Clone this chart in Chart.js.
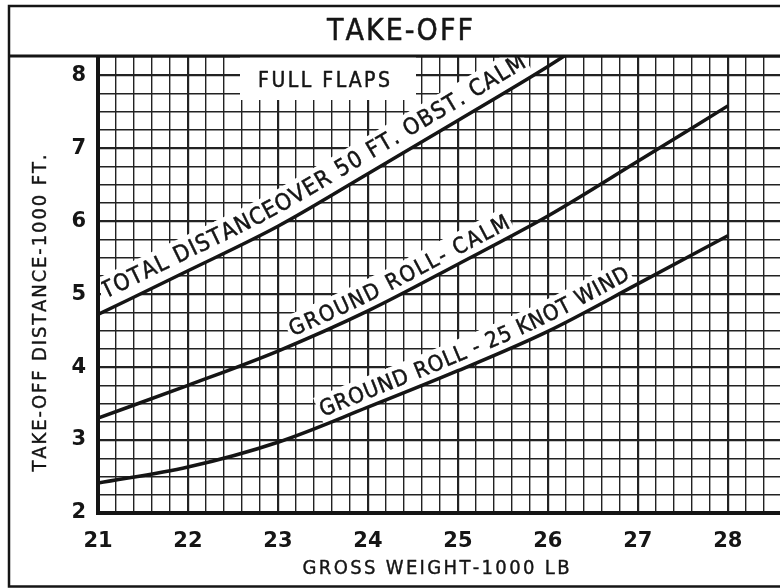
<!DOCTYPE html>
<html>
<head>
<meta charset="utf-8">
<title>Take-off</title>
<script src="https://cdn.jsdelivr.net/npm/chart.js@4.4.1/dist/chart.umd.min.js"></script>
<style>
  html, body { margin: 0; padding: 0; background: #fff; }
  canvas { display: block; }
</style>
</head>
<body>
<canvas id="takeoff" width="780" height="588"></canvas>
<script>
// gross weight, 1000 lb
const weights = [21, 22, 23, 24, 25, 26, 27, 28];
const totalWeights = [21, 22, 23, 24, 25, 26, 26.5];
// take-off distance, 1000 ft
const totalDistance = [4.72, 5.32, 5.93, 6.65, 7.38, 8.12, 8.52];
const groundRollCalm = [3.30, 3.75, 4.22, 4.77, 5.41, 6.07, 6.82, 7.58];
const groundRollWind = [2.41, 2.63, 2.97, 3.45, 3.95, 4.49, 5.14, 5.80];
const xTickLabels = [21, 22, 23, 24, 25, 26, 27, 28];
const yTickLabels = [2, 3, 4, 5, 6, 7, 8];

const INK = "#151515";
const LETTERING = "'DejaVu Sans Condensed', 'DejaVu Sans'";

const curveLabels = [
  { dataset: 0, text: "TOTAL DISTANCEOVER 50 FT. OBST. CALM", from: 21.1, to: 25.82, offset: 11, size: 23 },
  { dataset: 1, text: "GROUND ROLL- CALM", from: 23.18, to: 25.62, offset: 8, size: 22 },
  { dataset: 2, text: "GROUND ROLL - 25 KNOT WIND", from: 23.5, to: 26.95, offset: 8, size: 22 },
];

function gridTicks(min, max, step) {
  const out = [];
  for (let i = 0; min + i * step <= max + 1e-6; i++) {
    out.push({ value: Math.round((min + i * step) * 100) / 100 });
  }
  return out;
}

function isWhole(v) {
  return Math.abs(v - Math.round(v)) < 1e-6;
}

function inkText(ctx, c, x, y) {
  ctx.fillText(c, x, y);
  ctx.strokeText(c, x, y);
}

// draw text with letter gaps so it fills the given width, centred on cx
function drawSpaced(ctx, text, cx, cy, width) {
  const chars = text.split("");
  const ws = chars.map((c) => ctx.measureText(c).width);
  const total = ws.reduce((a, b) => a + b, 0);
  const gap = (width - total) / (chars.length - 1);
  let x = cx - width / 2;
  ctx.textAlign = "left";
  chars.forEach((c, i) => {
    inkText(ctx, c, x, cy);
    x += ws[i] + gap;
  });
}

// sample the drawn bezier curve of a dataset
function samplePath(meta) {
  const pts = meta.data;
  const out = [];
  for (let i = 0; i < pts.length - 1; i++) {
    const a = pts[i], b = pts[i + 1];
    const c1x = a.cp2x ?? a.x, c1y = a.cp2y ?? a.y;
    const c2x = b.cp1x ?? b.x, c2y = b.cp1y ?? b.y;
    for (let k = 0; k < 30; k++) {
      const t = k / 30, u = 1 - t;
      out.push({
        x: u * u * u * a.x + 3 * u * u * t * c1x + 3 * u * t * t * c2x + t * t * t * b.x,
        y: u * u * u * a.y + 3 * u * u * t * c1y + 3 * u * t * t * c2y + t * t * t * b.y,
      });
    }
  }
  const last = pts[pts.length - 1];
  out.push({ x: last.x, y: last.y });
  let s = 0;
  out[0].s = 0;
  for (let i = 1; i < out.length; i++) {
    s += Math.hypot(out[i].x - out[i - 1].x, out[i].y - out[i - 1].y);
    out[i].s = s;
  }
  return out;
}

function pointAt(path, s) {
  for (let i = 1; i < path.length; i++) {
    if (path[i].s >= s) {
      const a = path[i - 1], b = path[i];
      const t = (s - a.s) / (b.s - a.s || 1);
      return {
        x: a.x + (b.x - a.x) * t,
        y: a.y + (b.y - a.y) * t,
        angle: Math.atan2(b.y - a.y, b.x - a.x),
      };
    }
  }
  const a = path[path.length - 2], b = path[path.length - 1];
  return { x: b.x, y: b.y, angle: Math.atan2(b.y - a.y, b.x - a.x) };
}

function lengthAtX(path, px) {
  for (let i = 0; i < path.length; i++) {
    if (path[i].x >= px) return path[i].s;
  }
  return path[path.length - 1].s;
}

const chartLabels = {
  id: "chartLabels",
  beforeDatasetsDraw(chart) {
    const { ctx, chartArea, scales: { x } } = chart;
    ctx.save();
    ctx.beginPath();
    ctx.rect(chartArea.left + 3, chartArea.top, chartArea.right - chartArea.left, chartArea.bottom - chartArea.top - 3);
    ctx.clip();
    ctx.strokeStyle = INK;
    ctx.lineWidth = 0.5;
    ctx.lineJoin = "round";

    // FULL FLAPS note
    ctx.fillStyle = "#fff";
    ctx.fillRect(240, chartArea.top, 176, 43);
    ctx.fillStyle = INK;
    ctx.font = "21px " + LETTERING;
    ctx.textBaseline = "middle";
    drawSpaced(ctx, "FULL FLAPS", 324, 82, 132);

    // curve labels set along each line
    ctx.textBaseline = "alphabetic";
    curveLabels.forEach((lab) => {
      const path = samplePath(chart.getDatasetMeta(lab.dataset));
      const s0 = lengthAtX(path, x.getPixelForValue(lab.from));
      const s1 = lengthAtX(path, x.getPixelForValue(lab.to));
      ctx.font = lab.size + "px " + LETTERING;
      const chars = lab.text.split("");
      const ws = chars.map((c) => ctx.measureText(c).width);
      const total = ws.reduce((a, b) => a + b, 0);
      const gap = (s1 - s0 - total) / (chars.length - 1);
      const cap = lab.size * 0.73;
      let s = s0;
      chars.forEach((c, i) => {
        const p = pointAt(path, s + ws[i] / 2);
        const nx = Math.sin(p.angle), ny = -Math.cos(p.angle);
        ctx.save();
        ctx.translate(p.x + nx * lab.offset, p.y + ny * lab.offset);
        ctx.rotate(p.angle);
        ctx.fillStyle = "#fff";
        ctx.fillRect(-ws[i] / 2 - gap / 2 - 1.5, -cap - 5, ws[i] + gap + 3, cap + 5 + lab.offset);
        ctx.restore();
        s += ws[i] + gap;
      });
      s = s0;
      ctx.fillStyle = INK;
      ctx.textAlign = "center";
      chars.forEach((c, i) => {
        const p = pointAt(path, s + ws[i] / 2);
        const nx = Math.sin(p.angle), ny = -Math.cos(p.angle);
        ctx.save();
        ctx.translate(p.x + nx * lab.offset, p.y + ny * lab.offset);
        ctx.rotate(p.angle);
        inkText(ctx, c, 0, 0);
        ctx.restore();
        s += ws[i] + gap;
      });
    });
    ctx.restore();
  },
  afterDraw(chart) {
    const { ctx, width, height } = chart;
    ctx.save();
    ctx.strokeStyle = INK;
    // frame and heading box
    ctx.lineWidth = 2.5;
    ctx.beginPath();
    ctx.moveTo(width, 6);
    ctx.lineTo(9, 6);
    ctx.lineTo(9, height - 1.5);
    ctx.lineTo(width, height - 1.5);
    ctx.stroke();
    ctx.lineWidth = 3;
    ctx.beginPath();
    ctx.moveTo(9, 56);
    ctx.lineTo(width, 56);
    ctx.stroke();

    ctx.fillStyle = INK;
    ctx.lineWidth = 0.5;
    ctx.lineJoin = "round";
    ctx.textBaseline = "middle";
    ctx.font = "30px " + LETTERING;
    drawSpaced(ctx, "TAKE-OFF", 400, 32, 146);

    ctx.lineWidth = 0.4;
    ctx.font = "20px " + LETTERING;
    drawSpaced(ctx, "GROSS WEIGHT-1000 LB", 436, 569, 267);

    ctx.translate(41, 313);
    ctx.rotate(-Math.PI / 2);
    drawSpaced(ctx, "TAKE-OFF DISTANCE-1000 FT.", 0, 0, 317);
    ctx.restore();
  },
};

const ctx = document.getElementById("takeoff").getContext("2d");

const gridOpts = {
  color: "#222",
  lineWidth: (c) => (c.tick && isWhole(c.tick.value) ? 2.2 : 1.4),
  drawTicks: false,
};

new Chart(ctx, {
  type: "line",
  data: {
    datasets: [
      {
        label: "Total distance over 50 ft. obst. calm",
        data: totalWeights.map((w, i) => ({ x: w, y: totalDistance[i] })),
      },
      {
        label: "Ground roll - calm",
        data: weights.map((w, i) => ({ x: w, y: groundRollCalm[i] })),
      },
      {
        label: "Ground roll - 25 knot wind",
        data: weights.map((w, i) => ({ x: w, y: groundRollWind[i] })),
      },
    ],
  },
  options: {
    responsive: false,
    animation: false,
    events: [],
    layout: { padding: { top: 57, left: 0, right: 0, bottom: 0 } },
    elements: {
      line: { borderColor: INK, borderWidth: 3.5, cubicInterpolationMode: "monotone", fill: false },
      point: { radius: 0 },
    },
    plugins: {
      legend: { display: false },
      tooltip: { enabled: false },
    },
    scales: {
      x: {
        type: "linear",
        min: 21,
        max: 28.58,
        afterBuildTicks: (s) => { s.ticks = gridTicks(21, 28.58, 0.2); },
        afterFit: (s) => { s.height = 75; },
        grid: gridOpts,
        border: { color: INK, width: 4 },
        ticks: {
          autoSkip: false,
          maxRotation: 0,
          padding: 16,
          color: INK,
          font: { family: "'DejaVu Sans'", size: 21, weight: "bold" },
          callback: (v) => (xTickLabels.includes(Math.round(v * 100) / 100) ? String(v) : ""),
        },
      },
      y: {
        type: "linear",
        min: 2,
        max: 8.25,
        afterBuildTicks: (s) => { s.ticks = gridTicks(2, 8.25, 0.25); },
        afterFit: (s) => { s.width = 98; },
        grid: gridOpts,
        border: { color: INK, width: 4 },
        ticks: {
          autoSkip: false,
          padding: 12,
          color: INK,
          font: { family: "'DejaVu Sans'", size: 21, weight: "bold" },
          callback: (v) => (yTickLabels.includes(Math.round(v * 100) / 100) ? String(v) : ""),
        },
      },
    },
  },
  plugins: [chartLabels],
});
</script>
</body>
</html>
